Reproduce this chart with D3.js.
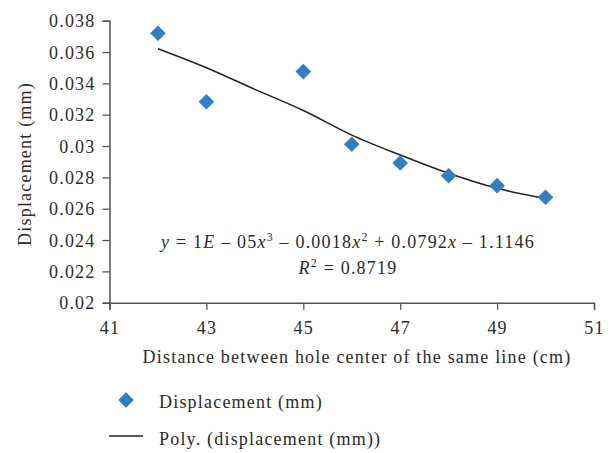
<!DOCTYPE html>
<html>
<head>
<meta charset="utf-8">
<script src="https://cdn.jsdelivr.net/npm/d3@7/dist/d3.min.js"></script>
<style>
html,body{margin:0;padding:0;background:#fff;}
text{font-family:"Liberation Serif","Times New Roman",serif;fill:#2b2b2b;letter-spacing:1.2px;}
</style>
</head>
<body>
<svg id="chart" width="616" height="453"></svg>
<script>
const distance = [42, 43, 45, 46, 47, 48, 49, 50];
const displacement = [0.0372, 0.03283, 0.03475, 0.03011, 0.02892, 0.0281, 0.02747, 0.02673];
const trendX = [42, 43, 44, 45, 46, 47, 48, 49, 50];
const trendY = [0.03621, 0.0350, 0.03362, 0.03227, 0.0307, 0.02943, 0.02826, 0.0273, 0.02666];
const xTicks = [41, 43, 45, 47, 49, 51];
const yTicks = [0.02, 0.022, 0.024, 0.026, 0.028, 0.03, 0.032, 0.034, 0.036, 0.038];

(function () {
const svg = d3.select("#chart");
const mLeft = 109.5, mRight = 594, mTop = 20.7, mBottom = 302.7;
const x = d3.scaleLinear().domain([41, 51]).range([mLeft, mRight]);
const y = d3.scaleLinear().domain([0.02, 0.038]).range([mBottom, mTop]);
const axisColor = "#555";
const FONT = "Liberation Serif";

const xAxis = svg.append("g").attr("transform", `translate(0,${mBottom})`)
  .call(d3.axisBottom(x).tickValues(xTicks).tickSize(7).tickPadding(12).tickFormat(d3.format("d")));
const yAxis = svg.append("g").attr("transform", `translate(${mLeft},0)`)
  .call(d3.axisLeft(y).tickValues(yTicks).tickSize(7).tickPadding(7).tickFormat(d => String(+d.toFixed(3))));
[xAxis, yAxis].forEach(g => {
  g.select(".domain").attr("stroke", axisColor).attr("stroke-width", 1.5);
  g.selectAll(".tick line").attr("stroke", axisColor).attr("stroke-width", 1.3);
  g.selectAll(".tick text").attr("font-family", FONT).attr("font-size", 18).attr("fill", "#2b2b2b");
});
yAxis.selectAll(".tick text").attr("dy", "0.34em");
xAxis.selectAll(".tick text").attr("dy", "0.71em");

svg.append("text").attr("x", 357).attr("y", 363).attr("text-anchor", "middle")
  .attr("font-size", 18).text("Distance between hole center of the same line (cm)");
svg.append("text").attr("transform", "translate(31,164) rotate(-90)").attr("text-anchor", "middle")
  .attr("font-size", 18).text("Displacement (mm)");

const line = d3.line().x((d, i) => x(trendX[i])).y(d => y(d)).curve(d3.curveCatmullRom);
svg.append("path").datum(trendY).attr("d", line).attr("fill", "none")
  .attr("stroke", "#222").attr("stroke-width", 1.5);

const diamond = d3.symbol().type(d3.symbolSquare).size(122);
svg.selectAll(".pt").data(distance).enter().append("path")
  .attr("class", "pt").attr("d", diamond)
  .attr("transform", (d, i) => `translate(${x(d)},${y(displacement[i])}) rotate(45)`)
  .attr("fill", "#2f80c2");

const eq = svg.append("text").attr("x", 348).attr("y", 248).attr("text-anchor", "middle").attr("font-size", 18);
eq.append("tspan").attr("font-style", "italic").text("y");
eq.append("tspan").text(" = 1");
eq.append("tspan").attr("font-style", "italic").text("E");
eq.append("tspan").text(" \u2013 05");
eq.append("tspan").attr("font-style", "italic").text("x");
eq.append("tspan").attr("font-size", 12).attr("dy", -7).text("3");
eq.append("tspan").attr("dy", 7).text(" \u2013 0.0018");
eq.append("tspan").attr("font-style", "italic").text("x");
eq.append("tspan").attr("font-size", 12).attr("dy", -7).text("2");
eq.append("tspan").attr("dy", 7).text(" + 0.0792");
eq.append("tspan").attr("font-style", "italic").text("x");
eq.append("tspan").text(" \u2013 1.1146");

const r2 = svg.append("text").attr("x", 348).attr("y", 274).attr("text-anchor", "middle").attr("font-size", 18);
r2.append("tspan").attr("font-style", "italic").text("R");
r2.append("tspan").attr("font-size", 12).attr("dy", -7).text("2");
r2.append("tspan").attr("dy", 7).text(" = 0.8719");

const lg = svg.append("g");
lg.append("path").attr("d", d3.symbol().type(d3.symbolSquare).size(122)())
  .attr("transform", "translate(126,400) rotate(45)").attr("fill", "#2f80c2");
lg.append("text").attr("x", 159).attr("y", 408).attr("font-size", 18).text("Displacement (mm)");
lg.append("line").attr("x1", 109).attr("x2", 143).attr("y1", 436).attr("y2", 436)
  .attr("stroke", "#222").attr("stroke-width", 1.3);
lg.append("text").attr("x", 159).attr("y", 445).attr("font-size", 18).text("Poly. (displacement (mm))");
})();
</script>
</body>
</html>
